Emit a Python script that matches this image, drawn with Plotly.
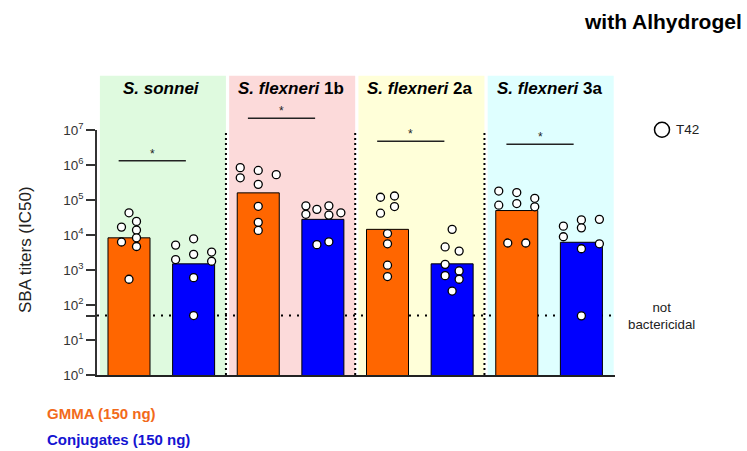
import plotly.graph_objects as go

# Strains (one panel each) and per-group summary titers
strains = ["<i>S. sonnei</i>", "<i>S. flexneri</i> 1b", "<i>S. flexneri</i> 2a", "<i>S. flexneri</i> 3a"]
gmma_bar = [8300, 160000, 14500, 50000]
conj_bar = [1500, 28000, 1500, 6200]

# Individual animal titers (T42), GMMA groups
gmma_sonnei = [43000, 16800, 24500, 13800, 6300, 8300, 4700, 545]
gmma_1b = [840000, 430000, 700000, 280000, 530000, 66000, 23000, 13500]
gmma_2a = [120000, 130000, 42000, 65000, 11000, 5600, 1370, 650]
gmma_3a = [180000, 163000, 112000, 71000, 79000, 64000, 5900, 5900]

# Individual animal titers (T42), conjugate groups
conj_sonnei = [5150, 7800, 1990, 2800, 3250, 1780, 605, 50]
conj_1b = [68000, 39000, 54000, 68000, 37000, 43000, 5300, 6400]
conj_2a = [14500, 4550, 3470, 1450, 940, 690, 545, 250]
conj_3a = [17900, 27000, 28000, 16000, 8900, 5600, 4050, 49]

not_bactericidal = 50
y_ticks = [1, 10, 100, 1000, 1e4, 1e5, 1e6, 1e7]
y_tick_text = ["10<sup>%d</sup>" % i for i in range(8)]

# Horizontal scatter spread of points within a bar (pixels from the bar centre)
jit_gmma = [
    [0, -7.5, 7.5, 7.5, -7.5, 7.5, 7.5, 0],
    [-18, -18, 0, 0, 18, 0, 0, 0],
    [-7, 7, -7, 7, 0, 0, 0, 0],
    [-18, 0, 18, -18, 0, 18, -9, 9],
]
jit_conj = [
    [-18, 0, -18, 0, 18, 18, 0, 0],
    [-17, -17, -6, 6, 6, 18, -6, 6],
    [0, -7, 7, -7, 7, -7, 7, 0],
    [-18, 0, 18, 0, -18, 18, 0, 0],
]

ORANGE = "#FF6600"
BLUE = "#0000FF"
PANEL_BG = ["#DFFADF", "#FCDADA", "#FFFFD9", "#DFFFFF"]
FONT = "Liberation Sans, Arial, sans-serif"

L, R, T, B = 97, 132, 129.5, 75.5
W, H = 747, 451
XR = [-0.495, 7.52]
PX = (W - L - R) / (XR[1] - XR[0])  # pixels per x unit
PH = H - T - B


def px_to_paper_x(px):
    return (px - L) / (W - L - R)


def px_to_paper_y(py):
    return (H - B - py) / PH


gmma_pts = [gmma_sonnei, gmma_1b, gmma_2a, gmma_3a]
conj_pts = [conj_sonnei, conj_1b, conj_2a, conj_3a]
gx = [2 * k for k in range(4)]
cx = [2 * k + 1 for k in range(4)]

fig = go.Figure()
fig.add_trace(go.Bar(x=gx, y=gmma_bar, width=0.65, marker=dict(color=ORANGE, line=dict(color="black", width=1)),
                     name="GMMA (150 ng)"))
fig.add_trace(go.Bar(x=cx, y=conj_bar, width=0.65, marker=dict(color=BLUE, line=dict(color="black", width=1)),
                     name="Conjugates (150 ng)"))

px_, py_ = [], []
for k in range(4):
    for v, j in zip(gmma_pts[k], jit_gmma[k]):
        px_.append(gx[k] + j / PX)
        py_.append(v)
    for v, j in zip(conj_pts[k], jit_conj[k]):
        px_.append(cx[k] + j / PX)
        py_.append(v)
fig.add_trace(go.Scatter(x=px_, y=py_, mode="markers", name="T42",
                         marker=dict(size=8, color="white", line=dict(color="black", width=1.3)),
                         cliponaxis=False))

shapes = []
# Panel backgrounds extending above the plot to hold the strain titles
for k in range(4):
    shapes.append(dict(type="rect", xref="x", yref="paper", x0=2 * k - 0.45, x1=2 * k + 1.5,
                       y0=0, y1=px_to_paper_y(75), fillcolor=PANEL_BG[k], line=dict(width=0), layer="below"))
# Limit of bactericidal activity
shapes.append(dict(type="line", xref="paper", yref="y", x0=0, x1=1,
                   y0=not_bactericidal, y1=not_bactericidal,
                   line=dict(color="black", width=2, dash="2px,6px"), layer="below"))
# Panel separators
for k in range(3):
    shapes.append(dict(type="line", xref="x", yref="paper", x0=2 * k + 1.5, x1=2 * k + 1.5, y0=0, y1=1,
                       line=dict(color="black", width=2, dash="2px,3px")))
# Significance bars
sig_y = [160.3, 117.7, 140.7, 143.7]
annotations = []
for k in range(4):
    yp = px_to_paper_y(sig_y[k])
    shapes.append(dict(type="line", xref="x", yref="paper", x0=2 * k - 0.16, x1=2 * k + 0.88, y0=yp, y1=yp,
                       line=dict(color="#222", width=1.5)))
    annotations.append(dict(x=2 * k + 0.36, y=yp, xref="x", yref="paper", text="*", showarrow=False,
                            xanchor="center", yanchor="bottom", yshift=-2,
                            font=dict(size=12, color="#222", family=FONT)))
    annotations.append(dict(x=2 * k + 0.5, y=px_to_paper_y(88), xref="x", yref="paper",
                            text="<b>" + strains[k] + "</b>", showarrow=False,
                            xanchor="center", yanchor="middle",
                            font=dict(size=17, color="black", family=FONT)))

# T42 key symbol
shapes.append(dict(type="circle", xref="paper", yref="paper",
                   x0=px_to_paper_x(654.5), x1=px_to_paper_x(669.5),
                   y0=px_to_paper_y(136.8), y1=px_to_paper_y(121.8),
                   line=dict(color="black", width=1.5), fillcolor="white"))
annotations += [
    dict(x=px_to_paper_x(674), y=px_to_paper_y(129.3), text="T42",
         xanchor="left", yanchor="middle", font=dict(size=13.5, color="#222", family=FONT)),
    dict(x=px_to_paper_x(661), y=px_to_paper_y(316), text="not<br>bactericidal",
         xanchor="center", yanchor="middle", font=dict(size=13.3, color="#222", family=FONT)),
    dict(x=px_to_paper_x(744), y=px_to_paper_y(21), text="<b>with Alhydrogel</b>",
         xanchor="right", yanchor="middle", font=dict(size=21, color="black", family=FONT)),
    dict(x=px_to_paper_x(45), y=px_to_paper_y(414), text="<b>GMMA (150 ng)</b>",
         xanchor="left", yanchor="middle", font=dict(size=15, color="#F26A1B", family=FONT)),
    dict(x=px_to_paper_x(45), y=px_to_paper_y(440), text="<b>Conjugates (150 ng)</b>",
         xanchor="left", yanchor="middle", font=dict(size=15, color="#1414D2", family=FONT)),
    dict(x=px_to_paper_x(25), y=px_to_paper_y(250), text="SBA titers (IC50)",
         xanchor="center", yanchor="middle", textangle=-90, font=dict(size=17, color="#222", family=FONT)),
]
for a in annotations[-6:]:
    a.update(xref="paper", yref="paper", showarrow=False)

fig.update_layout(
    width=W, height=H, margin=dict(l=L, r=R, t=T, b=B),
    paper_bgcolor="white", plot_bgcolor="rgba(0,0,0,0)",
    showlegend=False, barmode="overlay",
    shapes=shapes, annotations=annotations,
    font=dict(family=FONT, color="#222"),
    xaxis=dict(range=XR, showgrid=False, zeroline=False, showticklabels=False, ticks="",
               showline=True, linecolor="#222", linewidth=1.5),
    yaxis=dict(type="log", range=[0, 7], showgrid=False, zeroline=False,
               tickmode="array", tickvals=y_ticks + [not_bactericidal], ticktext=y_tick_text + [""],
               ticks="outside", ticklen=9, tickwidth=1.5, tickcolor="#333",
               showline=True, linecolor="#333", linewidth=1.5,
               tickfont=dict(size=13.5, color="#333", family=FONT)),
)

fig.write_html("out.html")
